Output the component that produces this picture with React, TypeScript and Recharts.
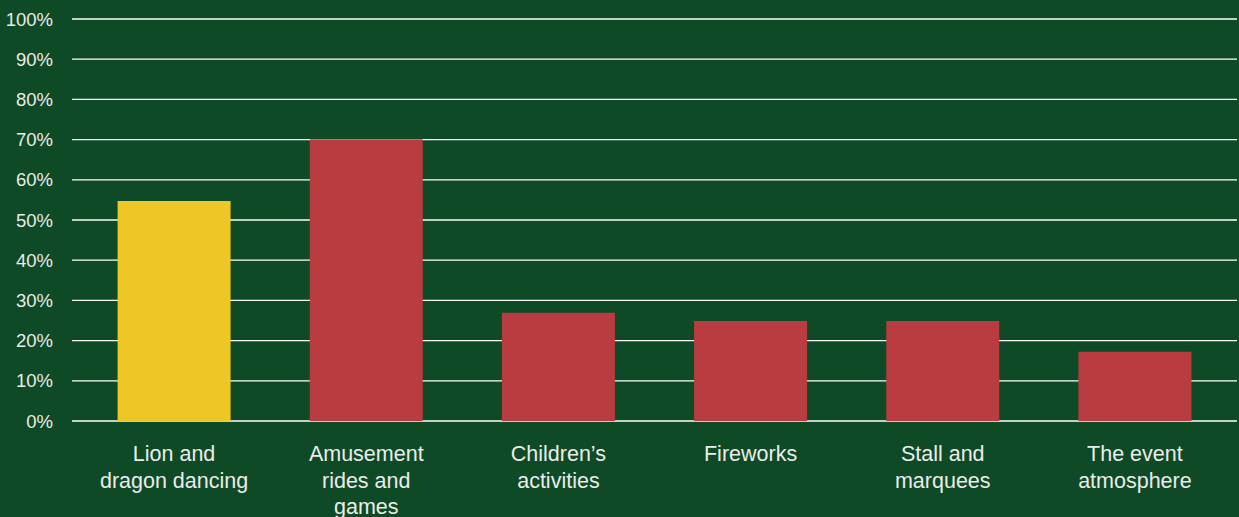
import { BarChart, Bar, XAxis, YAxis, CartesianGrid, Cell } from 'recharts';

const categories = [
  'Lion and dragon dancing',
  'Amusement rides and games',
  'Children’s activities',
  'Fireworks',
  'Stall and marquees',
  'The event atmosphere',
];
const labelLines = [
  ['Lion and', 'dragon dancing'],
  ['Amusement', 'rides and', 'games'],
  ['Children’s', 'activities'],
  ['Fireworks'],
  ['Stall and', 'marquees'],
  ['The event', 'atmosphere'],
];
const shares = [54.7, 70.1, 26.9, 24.9, 24.9, 17.2];
const highlight = [true, false, false, false, false, false];
const yTicks = [0, 10, 20, 30, 40, 50, 60, 70, 80, 90, 100];

const data = categories.map((name, i) => ({ name, value: shares[i], idx: i }));

const BG = '#0e4a25';
const TEXT = '#ebebeb';
const FONT = "'Liberation Sans', Arial, sans-serif";

function XTick({ x, y, payload }: any) {
  const lines = labelLines[payload.index] ?? [payload.value];
  return (
    <text x={x} y={y} textAnchor="middle" fill={TEXT} fontSize={21.5} fontFamily={FONT}>
      {lines.map((l, i) => (
        <tspan key={i} x={x} dy={i === 0 ? 40 : 26.5}>{l}</tspan>
      ))}
    </text>
  );
}

export default function App() {
  return (
    <div style={{ position: 'absolute', left: 0, top: 0, width: 1239, height: 517, background: BG }}>
      <BarChart
        width={1239}
        height={517}
        data={data}
        margin={{ top: 19, right: 2, left: 0, bottom: 0 }}
        barCategoryGap="20.6%"
      >
        <CartesianGrid vertical={false} stroke="#ffffff" strokeWidth={1.3} />
        <XAxis
          dataKey="name"
          axisLine={false}
          tickLine={false}
          tickSize={0}
          tickMargin={0}
          interval={0}
          padding={{ left: 6, right: 6 }}
          tick={<XTick />}
          height={96}
        />
        <YAxis
          domain={[0, 100]}
          ticks={yTicks}
          width={72}
          axisLine={false}
          tickLine={false}
          tickSize={0}
          tickMargin={19}
          tickFormatter={(v: number) => `${v}%`}
          tick={{ fill: TEXT, fontSize: 18.5, fontFamily: FONT }}
        />
        <Bar dataKey="value" isAnimationActive={false}>
          {data.map((d) => (
            <Cell key={d.idx} fill={highlight[d.idx] ? '#eec727' : '#b83c40'} />
          ))}
        </Bar>
      </BarChart>
    </div>
  );
}
